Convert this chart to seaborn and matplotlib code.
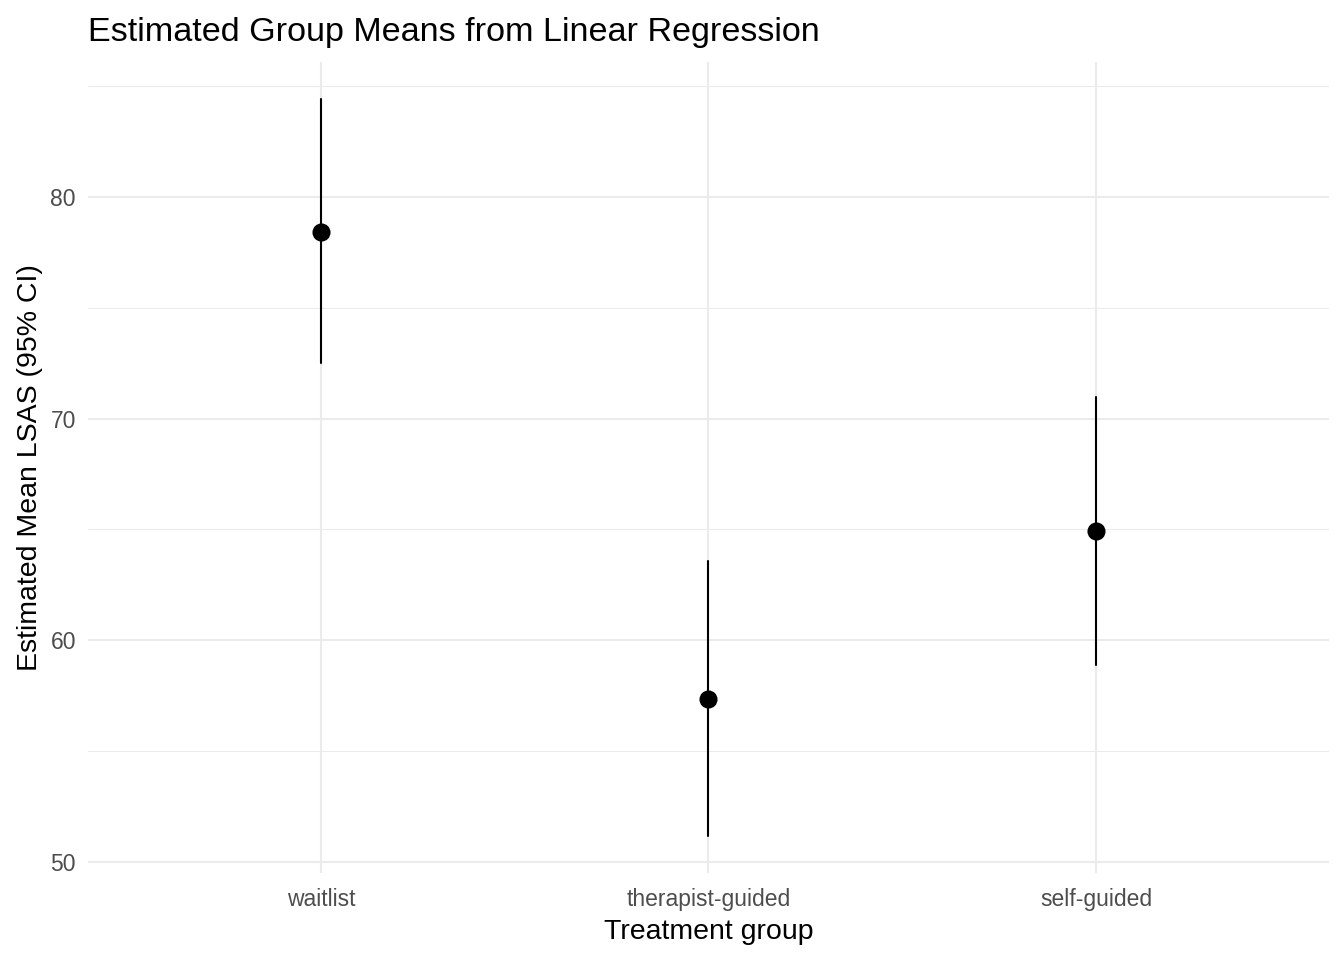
import pandas as pd
import numpy as np
import matplotlib
matplotlib.use("Agg")
import matplotlib.pyplot as plt
import seaborn as sns

# DATA
groups = ["waitlist", "therapist-guided", "self-guided"]
est_mean = [78.42, 57.35, 64.93]
ci_low = [72.50, 51.15, 58.90]
ci_high = [84.42, 63.57, 70.97]

# long table: lower / estimate / upper per group, median = estimate, full range = CI
df = pd.DataFrame({
    "group": np.repeat(groups, 3),
    "value": np.ravel(np.column_stack([ci_low, est_mean, ci_high])),
})
df["group"] = pd.Categorical(df["group"], categories=groups, ordered=True)

sns.set_theme(style="white")
plt.rcParams["font.family"] = ["Liberation Sans", "DejaVu Sans"]

fig, ax = plt.subplots(figsize=(13.44, 9.6), dpi=100)
fig.subplots_adjust(left=0.0658, right=0.9885, top=0.9354, bottom=0.0906)

sns.pointplot(
    data=df, x="group", y="value", order=groups,
    estimator="median", errorbar=("pi", 100),
    linestyle="none", color="black", marker="o",
    markersize=11, err_kws={"linewidth": 1.5}, ax=ax
)

ax.set_xlim(-0.6, 2.6)
ax.set_ylim(49.5, 86.08)
ax.set_yticks([50, 60, 70, 80])
ax.set_yticks([55, 65, 75, 85], minor=True)

ax.set_axisbelow(True)
ax.grid(True, which="major", color="#EBEBEB", linewidth=1.45)
ax.grid(True, which="minor", axis="y", color="#EBEBEB", linewidth=0.75)
ax.xaxis.grid(True, which="major", color="#EBEBEB", linewidth=1.45)
for s in ax.spines.values():
    s.set_visible(False)

ax.tick_params(axis="both", which="both", length=0, labelsize=16.5, labelcolor="#4D4D4D")
ax.tick_params(axis="x", pad=10.5)
ax.tick_params(axis="y", pad=9)

ax.set_xlabel("Treatment group", fontsize=20.5, color="black", labelpad=6)
ax.set_ylabel("Estimated Mean LSAS (95% CI)", fontsize=20.5, color="black", labelpad=5)
ax.set_title("Estimated Group Means from Linear Regression", loc="left",
             fontsize=24.6, color="black", pad=15)

fig.savefig("out.png", dpi=100, facecolor="white")
